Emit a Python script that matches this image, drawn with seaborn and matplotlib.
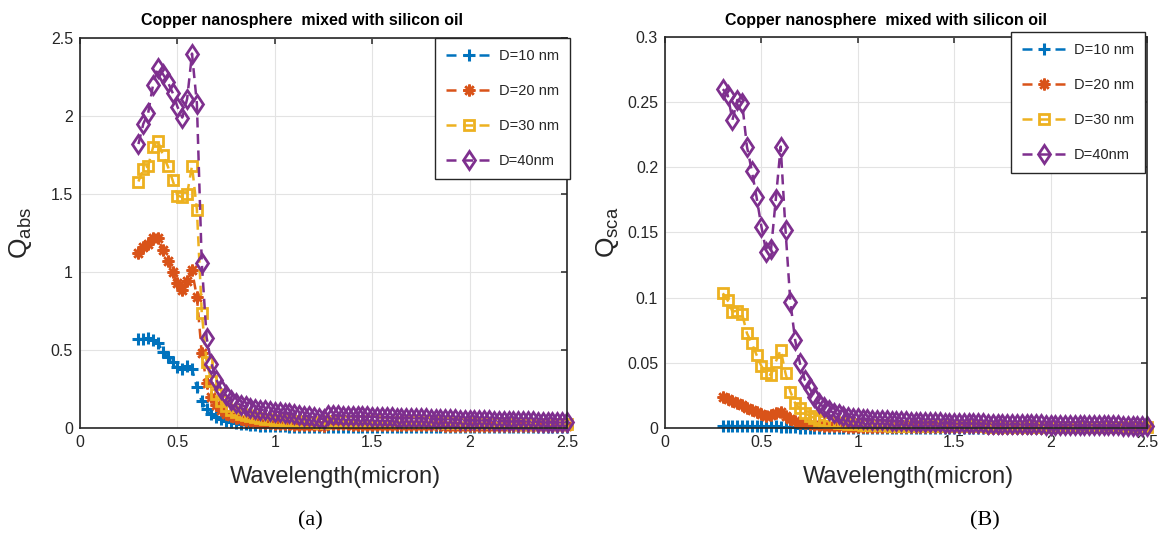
import numpy as np
import pandas as pd
import matplotlib
matplotlib.use("Agg")
import matplotlib.pyplot as plt
from matplotlib.ticker import FuncFormatter
import seaborn as sns

# wavelength grid (micron)
wavelength = [
    0.300, 0.325, 0.350, 0.375, 0.400, 0.425, 0.450, 0.475, 0.500, 0.525,
    0.550, 0.575, 0.600, 0.625, 0.650, 0.675, 0.700, 0.725, 0.750, 0.775,
    0.800, 0.825, 0.850, 0.875, 0.900, 0.925, 0.950, 0.975, 1.000, 1.025,
    1.050, 1.075, 1.100, 1.125, 1.150, 1.175, 1.200, 1.225, 1.250, 1.275,
    1.300, 1.325, 1.350, 1.375, 1.400, 1.425, 1.450, 1.475, 1.500, 1.525,
    1.550, 1.575, 1.600, 1.625, 1.650, 1.675, 1.700, 1.725, 1.750, 1.775,
    1.800, 1.825, 1.850, 1.875, 1.900, 1.925, 1.950, 1.975, 2.000, 2.025,
    2.050, 2.075, 2.100, 2.125, 2.150, 2.175, 2.200, 2.225, 2.250, 2.275,
    2.300, 2.325, 2.350, 2.375, 2.400, 2.425, 2.450, 2.475, 2.500]

labels = ["D=10 nm", "D=20 nm", "D=30 nm", "D=40nm"]

# absorption efficiency
qabs_10 = [
    0.57, 0.57, 0.575, 0.565, 0.545, 0.49, 0.455, 0.42, 0.39, 0.38,
    0.40, 0.38, 0.26, 0.17, 0.12, 0.09, 0.07, 0.056, 0.046, 0.038,
    0.032, 0.027, 0.023, 0.020, 0.018, 0.016, 0.014, 0.013, 0.012, 0.011,
    0.010, 0.0095, 0.009, 0.0085, 0.008, 0.0075, 0.007, 0.0068, 0.0065, 0.0085,
    0.0084, 0.0082, 0.0080, 0.0078, 0.0076, 0.0074, 0.0072, 0.0070, 0.0068, 0.0067,
    0.0066, 0.0065, 0.0064, 0.0063, 0.0062, 0.0061, 0.0060, 0.0059, 0.0058, 0.0057,
    0.0056, 0.0055, 0.0054, 0.0053, 0.0052, 0.0052, 0.0051, 0.0050, 0.0050, 0.0049,
    0.0048, 0.0048, 0.0047, 0.0047, 0.0046, 0.0046, 0.0045, 0.0045, 0.0044, 0.0044,
    0.0043, 0.0043, 0.0042, 0.0042, 0.0042, 0.0041, 0.0041, 0.0040, 0.0040]
qabs_20 = [
    1.12, 1.16, 1.18, 1.22, 1.22, 1.14, 1.07, 1.00, 0.93, 0.885,
    0.94, 1.01, 0.84, 0.48, 0.29, 0.20, 0.15, 0.115, 0.092, 0.076,
    0.064, 0.055, 0.048, 0.043, 0.039, 0.035, 0.032, 0.030, 0.028, 0.026,
    0.024, 0.023, 0.022, 0.021, 0.020, 0.019, 0.018, 0.017, 0.016, 0.024,
    0.024, 0.023, 0.023, 0.023, 0.022, 0.022, 0.022, 0.021, 0.021, 0.021,
    0.020, 0.020, 0.020, 0.019, 0.019, 0.019, 0.018, 0.018, 0.018, 0.018,
    0.017, 0.017, 0.017, 0.016, 0.016, 0.016, 0.016, 0.015, 0.015, 0.015,
    0.015, 0.014, 0.014, 0.014, 0.014, 0.013, 0.013, 0.013, 0.013, 0.013,
    0.012, 0.012, 0.012, 0.012, 0.012, 0.011, 0.011, 0.011, 0.011]
qabs_30 = [
    1.58, 1.66, 1.68, 1.80, 1.84, 1.75, 1.68, 1.59, 1.49, 1.48,
    1.50, 1.68, 1.40, 0.74, 0.42, 0.30, 0.22, 0.17, 0.14, 0.118,
    0.102, 0.090, 0.081, 0.074, 0.068, 0.063, 0.059, 0.056, 0.053, 0.050,
    0.048, 0.046, 0.044, 0.042, 0.040, 0.038, 0.036, 0.034, 0.032, 0.047,
    0.046, 0.046, 0.045, 0.045, 0.044, 0.044, 0.043, 0.043, 0.042, 0.042,
    0.041, 0.041, 0.040, 0.040, 0.039, 0.039, 0.038, 0.038, 0.037, 0.037,
    0.036, 0.036, 0.035, 0.035, 0.034, 0.034, 0.033, 0.033, 0.032, 0.032,
    0.031, 0.031, 0.030, 0.030, 0.030, 0.029, 0.029, 0.028, 0.028, 0.028,
    0.027, 0.027, 0.026, 0.026, 0.026, 0.025, 0.025, 0.025, 0.024]
qabs_40 = [
    1.82, 1.95, 2.02, 2.20, 2.31, 2.27, 2.22, 2.15, 2.06, 1.99,
    2.11, 2.40, 2.08, 1.06, 0.58, 0.41, 0.31, 0.25, 0.21, 0.18,
    0.16, 0.148, 0.138, 0.130, 0.123, 0.118, 0.113, 0.109, 0.105, 0.101,
    0.097, 0.093, 0.089, 0.084, 0.079, 0.074, 0.068, 0.062, 0.056, 0.083,
    0.082, 0.081, 0.080, 0.079, 0.077, 0.076, 0.075, 0.074, 0.072, 0.071,
    0.070, 0.069, 0.068, 0.067, 0.066, 0.065, 0.064, 0.063, 0.062, 0.061,
    0.060, 0.059, 0.058, 0.057, 0.056, 0.055, 0.054, 0.053, 0.052, 0.051,
    0.051, 0.050, 0.049, 0.048, 0.047, 0.047, 0.046, 0.045, 0.044, 0.043,
    0.043, 0.042, 0.041, 0.040, 0.040, 0.039, 0.038, 0.037, 0.037]

# scattering efficiency
qsca_10 = [
    0.0016, 0.0016, 0.0016, 0.0016, 0.0015, 0.0015, 0.0014, 0.0014, 0.0013, 0.0013,
    0.0013, 0.0013, 0.0011, 0.0008, 0.0005, 0.0004, 0.0003, 0.00025, 0.0002, 0.00017,
    0.00015, 0.00013, 0.00011, 0.0001, 0.00009, 0.00008, 0.00007, 0.00006, 0.00005, 0.00005,
    0.00004, 0.00004, 0.00004, 0.00003, 0.00003, 0.00003, 0.00003, 0.00003, 0.00002, 0.00002,
    0.00002, 0.00002, 0.00002, 0.00002, 0.00002, 0.00002, 0.00002, 0.00002, 0.00002, 0.00002,
    0.00002, 0.00002, 0.00002, 0.00002, 0.00002, 0.00002, 0.00002, 0.00002, 0.00002, 0.00002,
    0.00001, 0.00001, 0.00001, 0.00001, 0.00001, 0.00001, 0.00001, 0.00001, 0.00001, 0.00001,
    0.00001, 0.00001, 0.00001, 0.00001, 0.00001, 0.00001, 0.00001, 0.00001, 0.00001, 0.00001,
    0.00001, 0.00001, 0.00001, 0.00001, 0.00001, 0.00001, 0.00001, 0.00001, 0.00001]
qsca_20 = [
    0.024, 0.0225, 0.021, 0.019, 0.018, 0.0155, 0.0135, 0.012, 0.0105, 0.0095,
    0.0100, 0.0115, 0.0125, 0.0095, 0.0068, 0.0052, 0.0042, 0.0035, 0.0030, 0.0026,
    0.0022, 0.0019, 0.0017, 0.0015, 0.0013, 0.0012, 0.0011, 0.0010, 0.0009, 0.00085,
    0.0008, 0.00076, 0.00072, 0.00068, 0.00065, 0.00062, 0.0006, 0.00058, 0.00056, 0.00054,
    0.00052, 0.0005, 0.00049, 0.00048, 0.00047, 0.00046, 0.00045, 0.00044, 0.00043, 0.00042,
    0.00041, 0.0004, 0.0004, 0.00039, 0.00039, 0.00038, 0.00038, 0.00037, 0.00037, 0.00036,
    0.00036, 0.00035, 0.00035, 0.00035, 0.00034, 0.00034, 0.00034, 0.00033, 0.00033, 0.00033,
    0.00032, 0.00032, 0.00032, 0.00031, 0.00031, 0.00031, 0.0003, 0.0003, 0.0003, 0.0003,
    0.00029, 0.00029, 0.00029, 0.00029, 0.00028, 0.00028, 0.00028, 0.00028, 0.00027]
qsca_30 = [
    0.1034, 0.098, 0.0893, 0.090, 0.0875, 0.0727, 0.065, 0.056, 0.0475, 0.042,
    0.0407, 0.051, 0.0599, 0.042, 0.028, 0.019, 0.015, 0.0116, 0.0093, 0.0077,
    0.0065, 0.0056, 0.0049, 0.0043, 0.0039, 0.0035, 0.0032, 0.0029, 0.0027, 0.0025,
    0.0024, 0.0023, 0.0022, 0.0021, 0.0020, 0.0019, 0.0019, 0.0018, 0.0017, 0.0017,
    0.0016, 0.0016, 0.0015, 0.0015, 0.0015, 0.0014, 0.0014, 0.0014, 0.0013, 0.0013,
    0.0013, 0.0012, 0.0012, 0.0012, 0.0012, 0.0011, 0.0011, 0.0011, 0.0011, 0.0011,
    0.0010, 0.0010, 0.0010, 0.0010, 0.0010, 0.0010, 0.00095, 0.00095, 0.00095, 0.0009,
    0.0009, 0.0009, 0.0009, 0.0009, 0.00085, 0.00085, 0.00085, 0.00085, 0.00085, 0.0008,
    0.0008, 0.0008, 0.0008, 0.0008, 0.0008, 0.0008, 0.00075, 0.00075, 0.00075]
qsca_40 = [
    0.260, 0.2555, 0.2364, 0.2517, 0.2497, 0.2159, 0.1975, 0.177, 0.1545, 0.1353,
    0.137, 0.176, 0.2159, 0.152, 0.097, 0.0675, 0.0496, 0.037, 0.0305, 0.024,
    0.019, 0.0158, 0.0135, 0.0118, 0.0105, 0.0095, 0.0087, 0.0080, 0.0075, 0.0071,
    0.0068, 0.0065, 0.0062, 0.0060, 0.0058, 0.0056, 0.0054, 0.0052, 0.0050, 0.0049,
    0.0048, 0.0047, 0.0046, 0.0045, 0.0044, 0.0043, 0.0042, 0.0041, 0.0040, 0.0039,
    0.0038, 0.0037, 0.0036, 0.0035, 0.0035, 0.0034, 0.0033, 0.0032, 0.0032, 0.0031,
    0.0030, 0.0030, 0.0029, 0.0028, 0.0028, 0.0027, 0.0027, 0.0026, 0.0026, 0.0025,
    0.0025, 0.0024, 0.0024, 0.0023, 0.0023, 0.0022, 0.0022, 0.0021, 0.0021, 0.0021,
    0.0020, 0.0020, 0.0020, 0.0019, 0.0019, 0.0019, 0.0018, 0.0018, 0.0018]

colors = ["#0072BD", "#D95319", "#EDB120", "#7E2F8E"]
markers = ["+", (8, 2, 0), "s", "d"]
msizes = [9, 8.5, 7.5, 9.5]
mews = [2.2, 1.8, 2.0, 2.0]

sns.set_theme(style="whitegrid")
plt.rcParams["font.family"] = ["Liberation Sans", "DejaVu Sans"]
plt.rcParams["mathtext.fontset"] = "custom"
plt.rcParams["mathtext.rm"] = "Liberation Sans"
plt.rcParams["mathtext.default"] = "regular"

fig = plt.figure(figsize=(11.63, 5.43), dpi=100)
ax1 = fig.add_axes([80 / 1163, 115 / 543, 487 / 1163, 390 / 543])
ax2 = fig.add_axes([665 / 1163, 115 / 543, 482 / 1163, 391 / 543])


def draw_panel(ax, series, ylim, yticks, ylabel, ylab_x, xlab_x, leg_anchor, title_x):
    for vals, lab, c, m, ms, mew in zip(series, labels, colors, markers, msizes, mews):
        df = pd.DataFrame({"wl": wavelength, "q": vals})
        sns.lineplot(data=df, x="wl", y="q", ax=ax, color=c, label=lab,
                     linestyle=(0, (4, 2.6)), linewidth=1.8,
                     marker=m, markersize=ms, markeredgewidth=mew,
                     markeredgecolor=c, markerfacecolor="none",
                     estimator=None, clip_on=False)
    ax.set_xlim(0, 2.5)
    ax.set_ylim(*ylim)
    ax.set_xticks([0, 0.5, 1, 1.5, 2, 2.5])
    ax.set_yticks(yticks)
    fmt = FuncFormatter(lambda v, p: "%g" % v)
    ax.xaxis.set_major_formatter(fmt)
    ax.yaxis.set_major_formatter(fmt)
    ax.grid(True, color="#e3e3e3", linewidth=0.8)
    ax.set_axisbelow(True)
    for s in ax.spines.values():
        s.set_color("#262626")
        s.set_linewidth(1.2)
    ax.tick_params(direction="in", top=True, right=True, length=4, width=1.1,
                   labelsize=11.5, colors="#262626", pad=5)
    ax.set_xlabel("Wavelength(micron)", fontsize=17, color="#262626")
    ax.xaxis.set_label_coords(xlab_x, -0.097)
    ax.set_ylabel(ylabel, fontsize=19, color="#262626")
    ax.yaxis.set_label_coords(ylab_x, 0.5)
    ax.set_title("Copper nanosphere  mixed with silicon oil", fontsize=11.5,
                 fontweight="bold", x=title_x, pad=9, color="black")
    leg = ax.legend(handles=ax.get_lines(), labels=labels, loc="upper right",
                    bbox_to_anchor=leg_anchor, borderaxespad=0, fontsize=10.5,
                    frameon=True, fancybox=False, framealpha=1, edgecolor="#262626",
                    handlelength=3.1, handletextpad=0.5, labelspacing=1.45,
                    borderpad=0.75, numpoints=1)
    leg.get_frame().set_linewidth(1.0)


draw_panel(ax1, [qabs_10, qabs_20, qabs_30, qabs_40], (0, 2.5),
           [0, 0.5, 1, 1.5, 2, 2.5], "Q$_{abs}$", -0.094, 0.525, (1.006, 1.0), 0.455)
draw_panel(ax2, [qsca_10, qsca_20, qsca_30, qsca_40], (0, 0.3),
           [0, 0.05, 0.1, 0.15, 0.2, 0.25, 0.3], "Q$_{sca}$", -0.091, 0.506,
           (0.996, 1.013), 0.459)

fig.text(310 / 1163, 1 - 521 / 543, "(a)", fontsize=16, family="Liberation Serif",
         ha="center", va="center", color="black")
fig.text(985 / 1163, 1 - 521 / 543, "(B)", fontsize=16, family="Liberation Serif",
         ha="center", va="center", color="black")

fig.savefig("out.png", dpi=100)
